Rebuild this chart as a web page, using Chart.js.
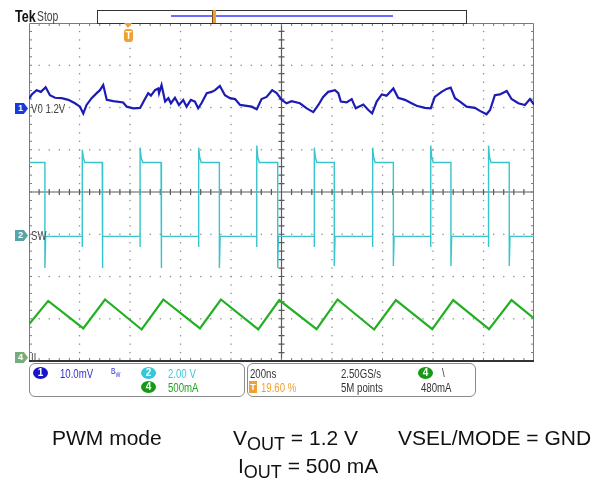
<!DOCTYPE html>
<html>
<head>
<meta charset="utf-8">
<title>PWM mode - scope capture</title>
<script src="https://cdn.jsdelivr.net/npm/chart.js@4.4.1/dist/chart.umd.min.js"></script>
<style>
  body { margin: 0; background: #fff; }
  #wrap { position: relative; width: 605px; height: 483px; overflow: hidden; }
  #scope { position: absolute; left: 0; top: 0; }
  .t { position: absolute; white-space: nowrap; line-height: 1;
       font-family: "Liberation Sans", Arial, sans-serif;
       font-size: 13px; color: #333; transform: scaleX(0.74); transform-origin: 0 0; }
  .box { position: absolute; border: 1px solid #8a8a8a; border-radius: 6px; box-sizing: border-box; }
  .dot { position: absolute; width: 15px; height: 12px; border-radius: 50%; color: #fff;
         font: bold 10px/12px "Liberation Sans", sans-serif; text-align: center; }
  .tag { position: absolute; width: 13px; height: 11px; color: #fff;
         font: bold 9px/11px "Liberation Sans", sans-serif; text-indent: 3px;
         clip-path: polygon(0 0, 68% 0, 100% 50%, 68% 100%, 0 100%); }
  .cap { position: absolute; white-space: nowrap; line-height: 1; color: #111;
         font-family: "Liberation Sans", Arial, sans-serif; font-size: 21px; }
  .cap sub { font-size: 18px; vertical-align: -5px; line-height: 0; }
</style>
</head>
<body>
<div id="wrap">
  <canvas id="scope" width="605" height="483"></canvas>

  <!-- header -->
  <div class="t" style="left:15px;top:8px;font-size:17px;font-weight:bold;color:#111">Tek</div>
  <div class="t" style="left:37px;top:9px;font-size:14px;color:#444">Stop</div>
  <div style="position:absolute;left:97px;top:10px;width:370px;height:14px;border:1px solid #333;box-sizing:border-box"></div>
  <div style="position:absolute;left:171px;top:15px;width:222px;height:2px;background:#6b6bff"></div>
  <div style="position:absolute;left:212px;top:10px;width:4px;height:13px;background:#f0a030;border-left:1px solid #7a5010;box-sizing:border-box"></div>
  <div style="position:absolute;left:124px;top:23px;width:0;height:0;border-left:4px solid transparent;border-right:4px solid transparent;border-top:5px solid #f0a030"></div>
  <div style="position:absolute;left:124px;top:29px;width:9px;height:13px;border-radius:3px;background:#f0a030;color:#fff;font:bold 10px/13px 'Liberation Sans',sans-serif;text-align:center">T</div>

  <!-- channel markers -->
  <div class="tag" style="left:15px;top:103px;background:#1a38e0">1</div>
  <div class="t" style="left:31px;top:102px;color:#444">V0 1.2V</div>
  <div class="tag" style="left:15px;top:230px;background:#58a4a6">2</div>
  <div class="t" style="left:31px;top:229px;color:#444">SW</div>
  <div class="tag" style="left:15px;top:352px;background:#78ac78">4</div>
  <div class="t" style="left:31px;top:351px;color:#444">IL</div>

  <!-- status readout -->
  <div class="box" style="left:29px;top:363px;width:216px;height:34px"></div>
  <div class="box" style="left:247px;top:363px;width:229px;height:34px"></div>
  <div class="dot" style="left:33px;top:367px;background:#1616c8">1</div>
  <div class="t" style="left:60px;top:367px;color:#3030d0">10.0mV</div>
  <div class="t" style="left:111px;top:367px;font-size:9px;color:#3030d0">B<sub style="font-size:7px">W</sub></div>
  <div class="dot" style="left:141px;top:367px;background:#33c8d8">2</div>
  <div class="t" style="left:168px;top:367px;color:#3cc8d8">2.00 V</div>
  <div class="dot" style="left:141px;top:381px;background:#169816">4</div>
  <div class="t" style="left:168px;top:381px;color:#22a022">500mA</div>
  <div class="t" style="left:250px;top:367px;color:#333">200ns</div>
  <div style="position:absolute;left:249px;top:381px;width:8px;height:12px;background:#f0a030;color:#fff;font:bold 9px/12px 'Liberation Sans',sans-serif;text-align:center">T</div>
  <div class="t" style="left:261px;top:381px;color:#f0a030">19.60 %</div>
  <div class="t" style="left:341px;top:367px;color:#333">2.50GS/s</div>
  <div class="t" style="left:341px;top:381px;color:#333">5M points</div>
  <div class="dot" style="left:418px;top:367px;background:#169816">4</div>
  <div class="t" style="left:442px;top:366px;color:#333">\</div>
  <div class="t" style="left:421px;top:381px;color:#333">480mA</div>

  <!-- caption -->
  <div class="cap" style="left:52px;top:427px">PWM mode</div>
  <div class="cap" style="left:233px;top:427px">V<sub>OUT</sub> = 1.2 V</div>
  <div class="cap" style="left:398px;top:427px">VSEL/MODE = GND</div>
  <div class="cap" style="left:238px;top:455px">I<sub>OUT</sub> = 500 mA</div>
</div>

<script>
// horizontal: 200 ns/div, trigger at 19.60 % of the record
const nsPerDiv = 200;
const trigPct = 19.6;
const tStart = -trigPct / 100 * 10 * nsPerDiv;
const tEnd = tStart + 10 * nsPerDiv;

// vertical settings: units per div and position (div from centre)
const ch1 = { perDiv: 10, pos: 1.98 };    // mV around 1.2 V
const ch2 = { perDiv: 2, pos: -1.05 };    // V
const ch4 = { perDiv: 500, pos: -3.91 };  // mA

// CH1 output voltage ripple
const voutNs = [-392, -381, -362, -345, -326, -309, -289, -263, -236, -210, -190, -177, -164, -144, -124, -111, -98, -84,
  -58, -19, -5, 21, 48, 65, 80, 91, 107, 120, 123, 133, 147, 160, 170, 186, 202, 219, 232, 249, 265, 278, 291, 312, 331,
  345, 364, 384, 404, 424, 444, 470, 490, 510, 529, 549, 571, 589, 609, 628, 648, 681, 708, 734, 754, 773, 793, 820, 833,
  843, 866, 886, 902, 932, 952, 967, 985, 1005, 1024, 1051, 1070, 1097, 1123, 1143, 1176, 1199, 1215, 1242, 1262, 1278,
  1295, 1315, 1341, 1374, 1394, 1420, 1434, 1453, 1473, 1500, 1519, 1546, 1572, 1592, 1608];
const voutMv = [2.2, 3.3, 4.3, 3.9, 5.0, 3.1, 2.5, 2.4, 2.0, 1.2, 0.4, -1.2, 0.8, 2.4, 3.6, 4.3, 5.5, 2.0,
  1.7, 1.4, 0.4, 0.0, 0.1, 2.0, 3.6, 3.0, 4.3, 4.7, 3.6, 5.5, 1.6, 2.4, 1.2, 2.5, 0.8, 2.0, 0.4, 2.0, 1.6, 0.0, 1.2, 3.6, 3.9,
  4.3, 5.3, 3.1, 2.4, 2.2, 0.8, 0.6, 0.4, -0.2, 2.2, 2.7, 4.3, 3.6, 2.0, 1.2, 1.7, 1.2, 0.0, -0.9, 0.8, 2.7, 3.9, 4.3, 3.6,
  1.6, 1.4, 2.2, 0.0, 0.9, -0.4, -1.2, 1.6, 3.3, 3.0, 4.7, 2.5, 2.0, 1.2, 0.6, 0.1, 0.0, 2.7, 3.9, 4.6, 4.9,
  2.4, 1.6, 0.4, 0.1, -0.6, -1.4, -0.4, 3.1, 3.3, 4.1, 2.2, 1.2, 0.8, 2.2, 0.9];

// CH2 switch node edges
const swFallNs = [-329, -102, 131, 362, 593, 817, 1051, 1279, 1510];
const swRiseNs = [-181, 48, 280, 510, 738, 969, 1199, 1428];
const swPeakV = [4.1, 4.2, 4.2, 4.3, 4.2, 4.2, 4.3, 4.3];
const swDipV = [-1.5, -1.5, -1.5, -1.5, -1.5, -1.4, -1.4, -1.4, -1.4];
const swHighV = 3.5;
const swLowV = 0;
const swRiseDipV = -0.5;
const swSettleV = 3.75;

// CH4 inductor current corners
const ilNs = [-392, -316, -177, -91, 54, 140, 285, 368, 516, 599, 747, 830, 975, 1061, 1205, 1288, 1430, 1519, 1608];
const ilMa = [390, 666, 340, 683, 328, 683, 340, 683, 328, 675, 331, 683, 328, 675, 331, 675, 331, 675, 458];

function pairs(xs, ys) {
  return xs.map((x, i) => ({ x: x, y: ys[i] }));
}

function switchNode() {
  const pts = [{ x: tStart, y: swHighV }];
  swFallNs.forEach((tf, i) => {
    pts.push({ x: tf, y: swHighV }, { x: tf, y: swDipV[i] }, { x: tf + 3, y: swLowV });
    const tr = swRiseNs[i];
    if (tr === undefined) return;
    pts.push({ x: tr, y: swLowV }, { x: tr, y: swRiseDipV }, { x: tr, y: swPeakV[i] },
      { x: tr + 4, y: swSettleV }, { x: tr + 10, y: swHighV });
  });
  pts.push({ x: tEnd, y: swLowV });
  return pts;
}

function range(ch) {
  return { min: (-4 - ch.pos) * ch.perDiv, max: (4 - ch.pos) * ch.perDiv };
}

// scope graticule: 10 x 8 div, dotted divisions, centre cross with minor ticks
const graticule = {
  id: 'graticule',
  beforeDatasetsDraw(chart) {
    const { ctx, chartArea: a } = chart;
    const dx = (a.right - a.left) / 10, dy = (a.bottom - a.top) / 8;
    ctx.save();
    ctx.fillStyle = '#8c8c8c';
    for (let i = 1; i < 10; i++) {
      if (i === 5) continue;
      const x = a.left + i * dx;
      for (let k = 1; k < 40; k++) ctx.fillRect(x - 0.6, a.top + k * dy / 5 - 0.6, 1.3, 1.3);
    }
    for (let j = 1; j < 8; j++) {
      if (j === 4) continue;
      const y = a.top + j * dy;
      for (let k = 1; k < 50; k++) ctx.fillRect(a.left + k * dx / 5 - 0.6, y - 0.6, 1.3, 1.3);
    }
    const cx = a.left + 5 * dx, cy = a.top + 4 * dy;
    ctx.strokeStyle = '#5a5a5a';
    ctx.lineWidth = 1.2;
    ctx.beginPath();
    ctx.moveTo(cx, a.top); ctx.lineTo(cx, a.bottom);
    ctx.moveTo(a.left, cy); ctx.lineTo(a.right, cy);
    for (let k = 1; k < 50; k++) {
      const x = a.left + k * dx / 5;
      ctx.moveTo(x, cy - 3); ctx.lineTo(x, cy + 3);
    }
    for (let k = 1; k < 40; k++) {
      const y = a.top + k * dy / 5;
      ctx.moveTo(cx - 3, y); ctx.lineTo(cx + 3, y);
    }
    ctx.stroke();

    // frame and inward ticks
    ctx.strokeStyle = '#7a7a7a';
    ctx.lineWidth = 1;
    ctx.beginPath();
    ctx.moveTo(a.left + 0.5, a.bottom); ctx.lineTo(a.left + 0.5, a.top + 0.5);
    ctx.lineTo(a.right - 0.5, a.top + 0.5); ctx.lineTo(a.right - 0.5, a.bottom);
    for (let k = 1; k < 50; k++) {
      const x = a.left + k * dx / 5;
      ctx.moveTo(x, a.top); ctx.lineTo(x, a.top + 3);
      ctx.moveTo(x, a.bottom); ctx.lineTo(x, a.bottom - 3);
    }
    for (let k = 1; k < 40; k++) {
      const y = a.top + k * dy / 5;
      ctx.moveTo(a.left, y); ctx.lineTo(a.left + 3, y);
      ctx.moveTo(a.right, y); ctx.lineTo(a.right - 3, y);
    }
    ctx.stroke();
    ctx.strokeStyle = '#333';
    ctx.lineWidth = 2;
    ctx.beginPath();
    ctx.moveTo(a.left, a.bottom); ctx.lineTo(a.right, a.bottom);
    ctx.stroke();
    ctx.restore();
  }
};

const r1 = range(ch1), r2 = range(ch2), r4 = range(ch4);

new Chart(document.getElementById('scope').getContext('2d'), {
  type: 'line',
  data: {
    datasets: [{
      label: 'V0 1.2V',
      data: pairs(voutNs, voutMv),
      yAxisID: 'y1',
      borderColor: '#1c1cb4',
      borderWidth: 2.2
    }, {
      label: 'SW',
      data: switchNode(),
      yAxisID: 'y2',
      borderColor: '#38c4cc',
      borderWidth: 1.4
    }, {
      label: 'IL',
      data: pairs(ilNs, ilMa),
      yAxisID: 'y4',
      borderColor: '#22b022',
      borderWidth: 2.2
    }]
  },
  options: {
    responsive: false,
    animation: false,
    events: [],
    layout: { padding: { left: 29, top: 23, right: 71, bottom: 122 } },
    elements: { point: { radius: 0 }, line: { tension: 0, fill: false } },
    plugins: { legend: { display: false }, tooltip: { enabled: false } },
    scales: {
      x: { type: 'linear', min: tStart, max: tEnd, display: false },
      y1: { min: r1.min, max: r1.max, display: false },
      y2: { min: r2.min, max: r2.max, display: false },
      y4: { min: r4.min, max: r4.max, display: false }
    }
  },
  plugins: [graticule]
});
</script>
</body>
</html>
